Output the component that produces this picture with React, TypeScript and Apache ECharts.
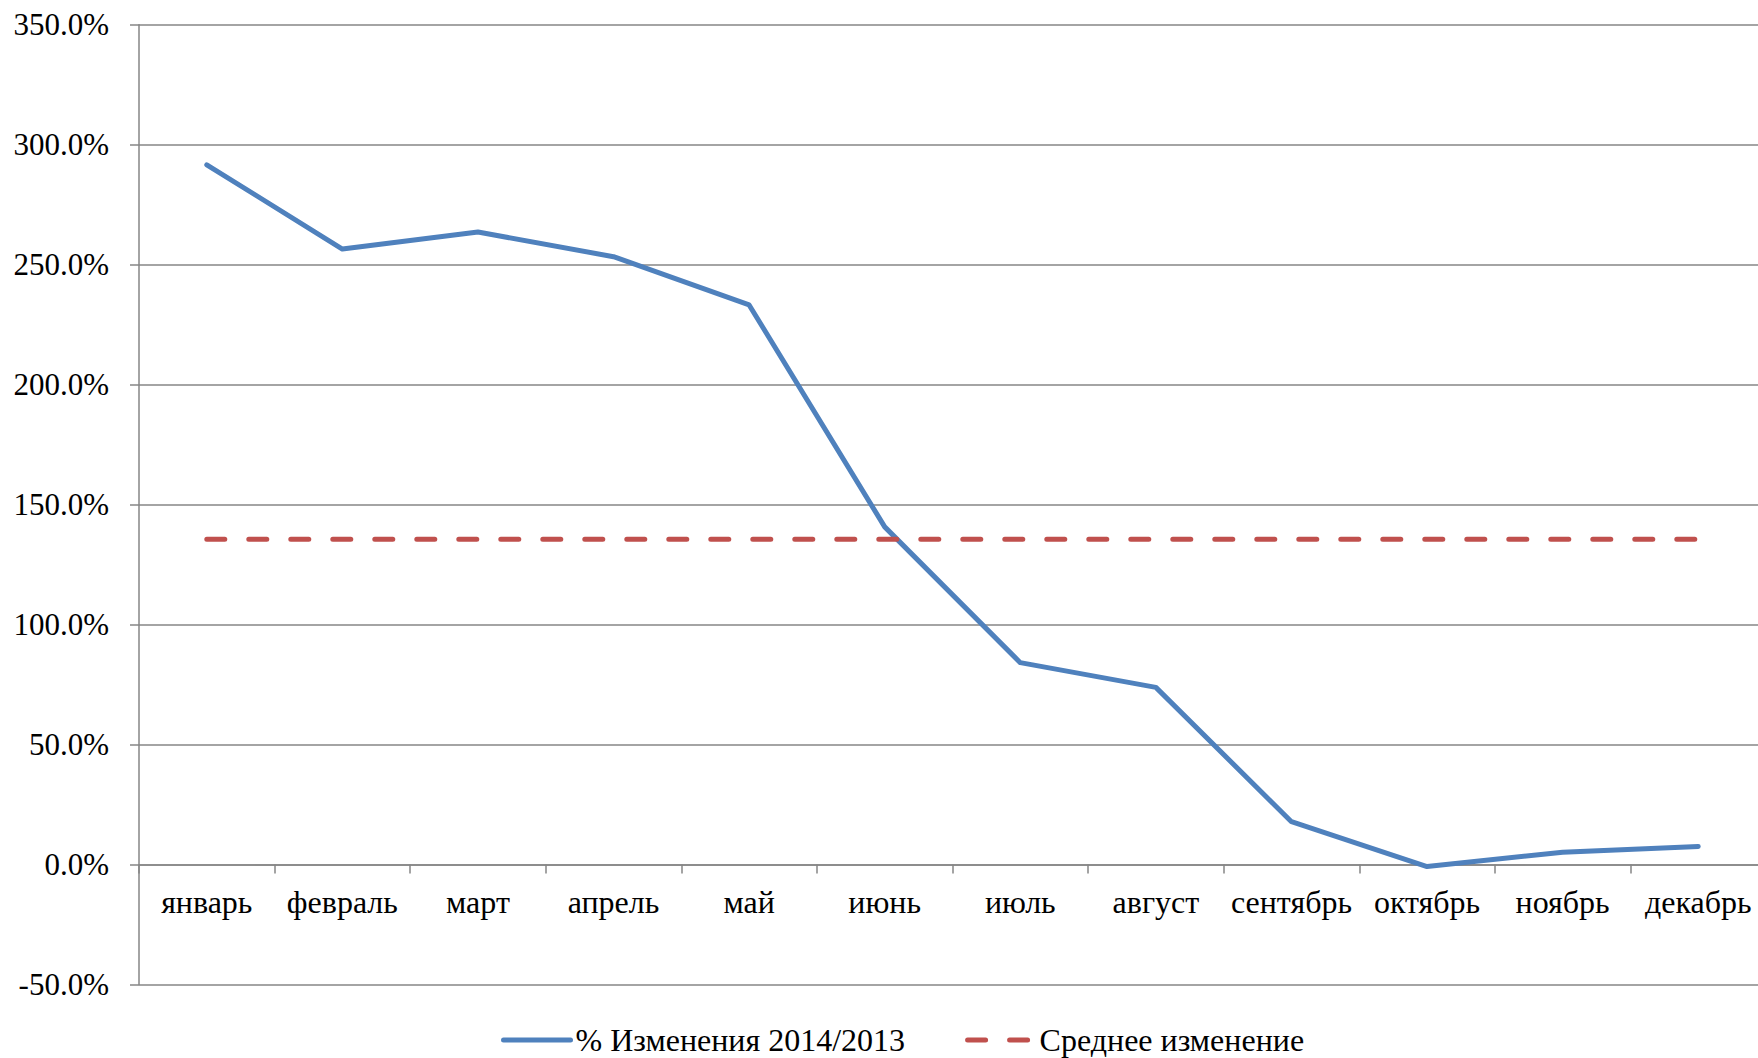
import React, { useEffect, useRef } from "react";
import * as echarts from "echarts";

const months = ["январь", "февраль", "март", "апрель", "май", "июнь", "июль", "август", "сентябрь", "октябрь", "ноябрь", "декабрь"];
const changeValues = [291.6, 256.5, 263.6, 253.3, 233.2, 140.7, 84.1, 73.8, 17.8, -0.9, 5.1, 7.5];
const averageValues = [135.5, 135.5, 135.5, 135.5, 135.5, 135.5, 135.5, 135.5, 135.5, 135.5, 135.5, 135.5];
const seriesNames = ["% Изменения 2014/2013", "Среднее изменение"];

export default function App() {
  const ref = useRef<HTMLDivElement>(null);
  useEffect(() => {
    if (!ref.current) return;
    document.body.style.overflow = "hidden";
    const chart = echarts.init(ref.current, null, { renderer: "svg" });
    const font = "'Liberation Serif', 'Times New Roman', serif";
    const gray = "#868686";
    const gridTop = 24.7;
    const gridHeight = 959.7;
    chart.setOption({
      animation: false,
      backgroundColor: "#ffffff",
      textStyle: { fontFamily: font },
      grid: { left: 139, top: gridTop, width: 1627, height: gridHeight, containLabel: false },
      xAxis: {
        type: "category",
        data: months,
        boundaryGap: true,
        position: "bottom",
        offset: -gridHeight / 8,
        axisLine: { show: true, onZero: false, lineStyle: { color: gray, width: 1.5 } },
        axisTick: { show: true, length: 9, interval: 0, lineStyle: { color: gray, width: 1.5 } },
        axisLabel: { interval: 0, color: "#000", fontSize: 32, fontFamily: font, margin: 22 },
      },
      yAxis: {
        type: "value",
        min: -50,
        max: 350,
        interval: 50,
        axisLine: { show: true, lineStyle: { color: gray, width: 1.5 } },
        axisTick: { show: true, length: 9, lineStyle: { color: gray, width: 1.5 } },
        splitLine: { show: true, lineStyle: { color: gray, width: 1.5 } },
        axisLabel: {
          color: "#000",
          fontSize: 31,
          fontFamily: font,
          margin: 30,
          formatter: (v: number) => v.toFixed(1) + "%",
        },
      },
      legend: {
        left: 496,
        top: 1019,
        itemWidth: 67,
        itemHeight: 14,
        itemGap: 60,
        itemStyle: { opacity: 0 },
        lineStyle: { width: 5, cap: "round" },
        textStyle: { color: "#000", fontSize: 32, lineHeight: 32, fontFamily: font },
        data: seriesNames,
      },
      series: [
        {
          name: seriesNames[0],
          type: "line",
          data: changeValues,
          symbol: "none",
          lineStyle: { color: "#4F81BD", width: 5, cap: "round", join: "round" },
          itemStyle: { color: "#4F81BD" },
        },
        {
          name: seriesNames[1],
          type: "line",
          data: averageValues,
          symbol: "none",
          lineStyle: { color: "#C0504D", width: 5, type: [18, 24], cap: "round" },
          itemStyle: { color: "#C0504D" },
        },
      ],
    });
    return () => chart.dispose();
  }, []);
  return <div ref={ref} style={{ position: "fixed", left: 0, top: 0, width: 1772, height: 1058 }} />;
}
